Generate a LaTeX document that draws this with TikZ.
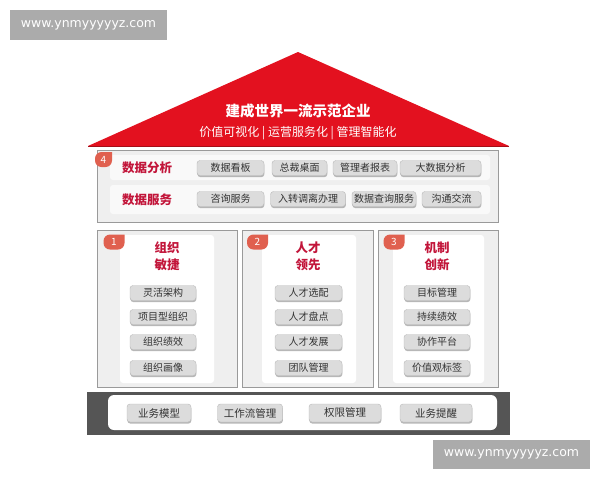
\documentclass[tikz,border=0pt]{standalone}
\usepackage{fontspec}
\setmainfont{Noto Sans CJK SC}
\newfontfamily\wmfont{DejaVu Sans}
\usetikzlibrary{shadows}
\definecolor{roofred}{HTML}{E3111F}
\definecolor{roofdark}{HTML}{A50F18}
\definecolor{crimson}{HTML}{C2153A}
\definecolor{badgered}{HTML}{E0604F}
\definecolor{panelgray}{HTML}{EFEFEF}
\definecolor{framegray}{HTML}{9A9A9A}
\definecolor{btngray}{HTML}{DCDCDC}
\definecolor{basegray}{HTML}{555555}
\definecolor{wmgray}{HTML}{ABABAB}
\tikzset{
  btn/.style={draw=gray!55, fill=btngray, rounded corners=3pt, minimum height=15pt,
    inner sep=0pt, font=\fontsize{10}{12}\selectfont, text=black!80,
    drop shadow={shadow xshift=0.4pt, shadow yshift=-1.6pt, fill=gray!80, opacity=0.7}},
  bigbtn/.style={btn, minimum height=18pt, font=\fontsize{10.5}{12}\selectfont},
  panel/.style={draw=framegray, fill=panelgray, line width=0.8pt},
  innerpanel/.style={fill=white, draw=none, rounded corners=3pt},
  badge/.style={fill=badgered, draw=none},
  badgetext/.style={text=white, font=\fontsize{10}{12}\selectfont, inner sep=0pt},
  rowlabel/.style={text=crimson, font=\fontsize{12.5}{14}\bfseries\selectfont, inner sep=0pt},
  coltitle/.style={text=crimson, font=\fontsize{12.5}{17}\bfseries\selectfont, inner sep=0pt, align=center},
  wm/.style={fill=wmgray, text=white, font=\wmfont\fontsize{12.5}{14}\selectfont, inner sep=0pt}
}
% badge: centre (#1,#2), half width #3, label #4
\newcommand{\mybadge}[4]{%
  \fill[badge] (#1+#3,#2-7.5) [rounded corners=6.5pt] -- (#1-#3,#2-7.5) -- (#1-#3,#2+7.5) -- (#1+#3,#2+7.5) [sharp corners] -- (#1+#3,#2-7.5) -- cycle;
  \node[badgetext] at (#1,#2) {#4};}
\begin{document}
\begin{tikzpicture}[x=1pt,y=-1pt]
\useasboundingbox (0,0) rectangle (600,480);
\fill[white] (0,0) rectangle (600,480);

% watermarks
\node[wm, minimum width=157pt, minimum height=30pt] (wm1) at (88.5,25) {www.ynmyyyyyz.com};
\node[wm, minimum width=157pt, minimum height=29pt] (wm2) at (511.5,454.5) {www.ynmyyyyyz.com};

% roof
\fill[roofred] (88,146) -- (298,52) -- (509,146) -- cycle;
\draw[roofdark, line width=1.2pt] (88,146.5) -- (509,146.5);
\node[text=white, font=\fontsize{14.5}{16}\bfseries\selectfont, inner sep=0pt] (title) at (298,111) {建成世界一流示范企业};
\node[text=white, font=\fontsize{12}{14}\selectfont, inner sep=0pt] (subtitle) at (298,133) {价值可视化 | 运营服务化 | 管理智能化};

% data layer
\draw[panel] (97,150) rectangle (498,222);
\fill[white!60!panelgray, rounded corners=3pt] (110,155) rectangle (490,180);
\fill[white!60!panelgray, rounded corners=3pt] (110,185) rectangle (490,214);
\mybadge{103.5}{159.5}{8.5}{4}
\node[rowlabel] (ra) at (147,168) {数据分析};
\node[rowlabel] (rs) at (147,200) {数据服务};
\node[btn, minimum width=67pt] (d1) at (230.5,168) {数据看板};
\node[btn, minimum width=55pt] (d2) at (299.5,168) {总裁桌面};
\node[btn, minimum width=64pt] (d3) at (365,168) {管理者报表};
\node[btn, minimum width=81pt] (d4) at (440.5,168) {大数据分析};
\node[btn, minimum width=67pt] (s1) at (230.5,199) {咨询服务};
\node[btn, minimum width=75pt] (s2) at (308,199) {入转调离办理};
\node[btn, minimum width=64pt] (s3) at (384,199) {数据查询服务};
\node[btn, minimum width=59pt] (s4) at (451.5,199) {沟通交流};

% pillar 1
\draw[panel] (97,230) rectangle (237,387);
\fill[innerpanel] (120,235) rectangle (214,383);
\mybadge{114}{242}{10.5}{1}
\node[coltitle] (t1) at (167,256) {组织\\敏捷};
\node[btn, minimum width=66pt] (p11) at (163,293) {灵活架构};
\node[btn, minimum width=66pt] (p12) at (163,317) {项目型组织};
\node[btn, minimum width=66pt] (p13) at (163,342) {组织绩效};
\node[btn, minimum width=66pt] (p14) at (163,368) {组织画像};

% pillar 2
\draw[panel] (242,230) rectangle (373,387);
\fill[innerpanel] (262,235) rectangle (356,383);
\mybadge{257.5}{242}{10.5}{2}
\node[coltitle] (t2) at (308,256) {人才\\领先};
\node[btn, minimum width=67pt] (p21) at (308.5,293) {人才选配};
\node[btn, minimum width=67pt] (p22) at (308.5,317) {人才盘点};
\node[btn, minimum width=67pt] (p23) at (308.5,342) {人才发展};
\node[btn, minimum width=67pt] (p24) at (308.5,368) {团队管理};

% pillar 3
\draw[panel] (378,230) rectangle (498,387);
\fill[innerpanel] (393,235) rectangle (484,383);
\mybadge{394}{242}{10.5}{3}
\node[coltitle] (t3) at (437,256) {机制\\创新};
\node[btn, minimum width=66pt] (p31) at (437,293) {目标管理};
\node[btn, minimum width=66pt] (p32) at (437,317) {持续绩效};
\node[btn, minimum width=66pt] (p33) at (437,342) {协作平台};
\node[btn, minimum width=66pt] (p34) at (437,368) {价值观标签};

% base
\fill[basegray] (87,392) rectangle (510,435);
\fill[white, rounded corners=6pt] (108,395) rectangle (497,430);
\node[bigbtn, minimum width=64pt] (b1) at (159,413) {业务模型};
\node[bigbtn, minimum width=65pt] (b2) at (250,413) {工作流管理};
\node[bigbtn, minimum width=72pt] (b3) at (345,413) {权限管理};
\node[bigbtn, minimum width=72pt] (b4) at (436,413) {业务提醒};
\end{tikzpicture}
\end{document}
